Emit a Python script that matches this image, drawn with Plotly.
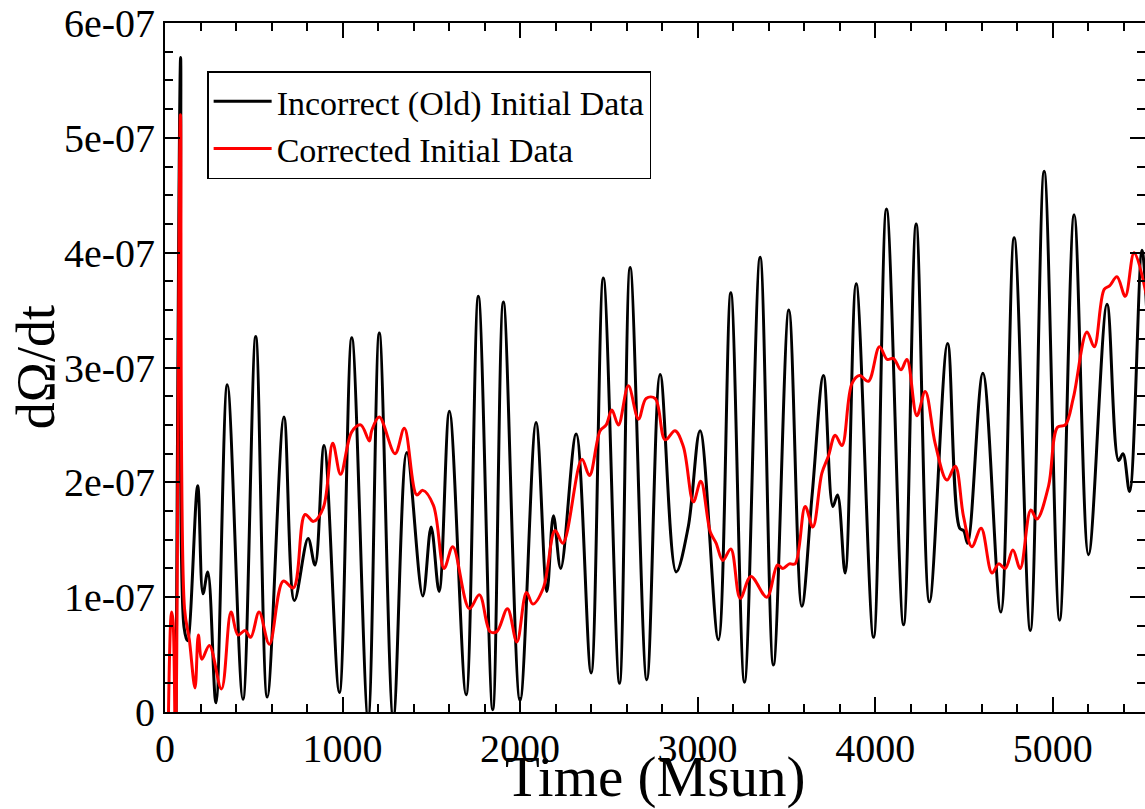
import plotly.graph_objects as go

# Incorrect (Old) Initial Data  (time in Msun, dOmega/dt)
old_t = [62, 88, 107, 127, 184, 214, 241, 287, 351, 439, 511, 576, 670, 729, 806, 845, 896, 982,
         1052, 1144, 1207, 1286, 1362, 1452, 1499, 1544, 1602, 1696, 1765, 1846, 1906, 2000,
         2090, 2151, 2188, 2229, 2316, 2400, 2469, 2560, 2620, 2714, 2789, 2879, 2947, 3014,
         3117, 3187, 3264, 3352, 3427, 3514, 3587, 3645, 3709, 3762, 3788, 3831, 3893, 3991,
         4064, 4160, 4231, 4306, 4408, 4476, 4498, 4521, 4607, 4708, 4783, 4874, 4952, 5039,
         5121, 5202, 5306, 5371, 5396, 5433, 5503, 5538]
old_v = [-0.2e-7, 5.70e-7, 0.74e-7, 0.62e-7, 1.97e-7, 1.03e-7, 1.22e-7, 0.08e-7, 2.85e-7, 0.11e-7,
         3.27e-7, 0.13e-7, 2.57e-7, 0.97e-7, 1.51e-7, 1.28e-7, 2.32e-7, 0.17e-7,
         3.26e-7, -0.05e-7, 3.30e-7, -0.05e-7, 2.26e-7, 1.01e-7, 1.61e-7, 1.05e-7, 2.62e-7, 0.15e-7,
         3.62e-7, 0.02e-7, 3.57e-7, 0.10e-7,
         2.52e-7, 1.05e-7, 1.71e-7, 1.25e-7, 2.42e-7, 0.34e-7, 3.78e-7, 0.25e-7, 3.87e-7, 0.28e-7,
         2.94e-7, 1.22e-7, 1.61e-7, 2.45e-7,
         0.63e-7, 3.65e-7, 0.26e-7, 3.96e-7, 0.41e-7, 3.50e-7, 0.92e-7, 1.89e-7, 2.93e-7, 1.79e-7,
         1.89e-7, 1.21e-7, 3.73e-7, 0.65e-7,
         4.38e-7, 0.76e-7, 4.25e-7, 0.96e-7, 3.21e-7, 1.60e-7, 1.58e-7, 1.47e-7, 2.95e-7, 0.87e-7,
         4.13e-7, 0.71e-7, 4.71e-7, 0.80e-7,
         4.33e-7, 1.37e-7, 3.55e-7, 2.19e-7, 2.25e-7, 1.92e-7, 4.02e-7, 3.20e-7]

# Corrected Initial Data
new_t = [17, 37, 45, 59, 87, 110, 137, 169, 188, 208, 250, 318, 372, 411, 451, 483, 530, 588, 666,
         723, 789, 836, 892, 945, 989, 1052, 1103, 1151, 1164, 1207, 1296, 1348, 1418, 1452, 1512,
         1572, 1621, 1714, 1771, 1831, 1869, 1929, 1982, 2036, 2072, 2131, 2197, 2241, 2348, 2391,
         2451, 2485, 2517, 2554, 2610, 2667, 2710, 2761, 2817, 2873, 2920, 2976, 3018, 3071, 3104,
         3142, 3187, 3240, 3300, 3390, 3450, 3480, 3517, 3549, 3606, 3649, 3700, 3737, 3775, 3813,
         3869, 3912, 3962, 4024, 4068, 4103, 4145, 4179, 4235, 4282, 4338, 4404, 4451, 4498, 4545,
         4597, 4658, 4696, 4733, 4776, 4817, 4877, 4911, 4977, 5027, 5071, 5117, 5193, 5234, 5290,
         5320, 5362, 5409, 5459, 5538]
new_v = [-0.3e-7, 0.87e-7, 0.80e-7, -0.3e-7, 5.20e-7, 0.90e-7, 0.63e-7, 0.21e-7, 0.67e-7, 0.46e-7,
         0.58e-7, 0.20e-7, 0.87e-7, 0.67e-7, 0.71e-7, 0.65e-7, 0.87e-7, 0.59e-7, 1.14e-7,
         1.08e-7, 1.72e-7, 1.66e-7, 1.78e-7, 2.34e-7, 2.07e-7, 2.44e-7, 2.50e-7, 2.36e-7, 2.45e-7,
         2.57e-7, 2.25e-7, 2.47e-7, 1.89e-7, 1.93e-7, 1.80e-7,
         1.25e-7, 1.44e-7, 0.90e-7, 1.02e-7, 0.70e-7, 0.70e-7, 0.90e-7, 0.61e-7, 1.04e-7, 0.94e-7,
         1.08e-7, 1.58e-7, 1.47e-7, 2.20e-7, 2.06e-7,
         2.45e-7, 2.50e-7, 2.63e-7, 2.50e-7, 2.84e-7, 2.55e-7, 2.73e-7, 2.73e-7, 2.37e-7, 2.45e-7,
         2.31e-7, 1.83e-7, 2.01e-7, 1.57e-7, 1.47e-7,
         1.32e-7, 1.42e-7, 0.99e-7, 1.18e-7, 1.00e-7, 1.28e-7, 1.25e-7, 1.29e-7, 1.29e-7, 1.79e-7,
         1.61e-7, 2.08e-7, 2.23e-7, 2.41e-7, 2.32e-7,
         2.86e-7, 2.93e-7, 2.88e-7, 3.18e-7, 3.07e-7, 3.08e-7, 2.98e-7, 3.07e-7, 2.58e-7, 2.79e-7,
         2.34e-7, 2.02e-7, 2.14e-7, 1.70e-7, 1.44e-7,
         1.60e-7, 1.21e-7, 1.29e-7, 1.25e-7, 1.41e-7, 1.25e-7, 1.76e-7, 1.68e-7, 1.97e-7, 2.48e-7,
         2.50e-7, 2.74e-7, 3.31e-7, 3.18e-7, 3.68e-7,
         3.71e-7, 3.79e-7, 3.62e-7, 4.00e-7, 3.55e-7]

y_tickvals = [0, 1e-7, 2e-7, 3e-7, 4e-7, 5e-7, 6e-7]
y_ticktext = ["0", "1e-07", "2e-07", "3e-07", "4e-07", "5e-07", "6e-07"]
x_tickvals = [0, 1000, 2000, 3000, 4000, 5000]
x_ticktext = ["0", "1000", "2000", "3000", "4000", "5000"]

FONT = "Liberation Serif, Times New Roman, serif"

fig = go.Figure()
fig.add_trace(go.Scatter(x=old_t, y=old_v, mode="lines", name="Incorrect (Old) Initial Data",
                         line=dict(color="black", width=3, shape="spline", smoothing=1.0)))
fig.add_trace(go.Scatter(x=new_t, y=new_v, mode="lines", name="Corrected Initial Data",
                         line=dict(color="red", width=3, shape="spline", smoothing=1.0)))

fig.update_layout(
    width=1145, height=809,
    margin=dict(l=165, r=0, t=23, b=97),
    paper_bgcolor="white", plot_bgcolor="white",
    font=dict(family=FONT, color="black"),
    legend=dict(x=0.043, y=0.93, xanchor="left", yanchor="top",
                bordercolor="black", borderwidth=1.5, bgcolor="white",
                font=dict(size=34, family=FONT), tracegroupgap=0, itemwidth=58),
    showlegend=True,
    annotations=[
        dict(text="Time (Msun)", xref="paper", yref="paper", x=0.5, y=-0.095,
             xanchor="center", yanchor="middle", showarrow=False,
             font=dict(size=57, family=FONT, color="black")),
        dict(text="dΩ/dt", xref="paper", yref="paper", x=-0.132, y=0.5,
             xanchor="center", yanchor="middle", showarrow=False, textangle=-90,
             font=dict(size=54, family=FONT, color="black")),
    ],
)
fig.update_xaxes(
    range=[0, 5520], showgrid=False, zeroline=False, automargin=False,
    showline=True, linecolor="black", linewidth=2, mirror="ticks",
    ticks="inside", ticklen=15, tickwidth=1.5, tickcolor="black",
    tickvals=x_tickvals, ticktext=x_ticktext, tickfont=dict(size=40, family=FONT),
    minor=dict(ticks="inside", tickmode="linear", dtick=200, tick0=0, ticklen=8,
               tickwidth=1.5, tickcolor="black"),
)
fig.update_yaxes(
    range=[0, 6e-7], showgrid=False, zeroline=False, automargin=False,
    showline=True, linecolor="black", linewidth=2, mirror="ticks",
    ticks="inside", ticklen=15, tickwidth=1.5, tickcolor="black",
    tickvals=y_tickvals, ticktext=y_ticktext, tickfont=dict(size=40, family=FONT),
    minor=dict(ticks="inside", tickmode="linear", dtick=2.5e-8, tick0=0, ticklen=8,
               tickwidth=1.5, tickcolor="black"),
)

fig.write_html(
    "out.html",
    config={"displayModeBar": False},
    post_script="document.body.style.margin='0';document.body.style.overflow='hidden';",
)
